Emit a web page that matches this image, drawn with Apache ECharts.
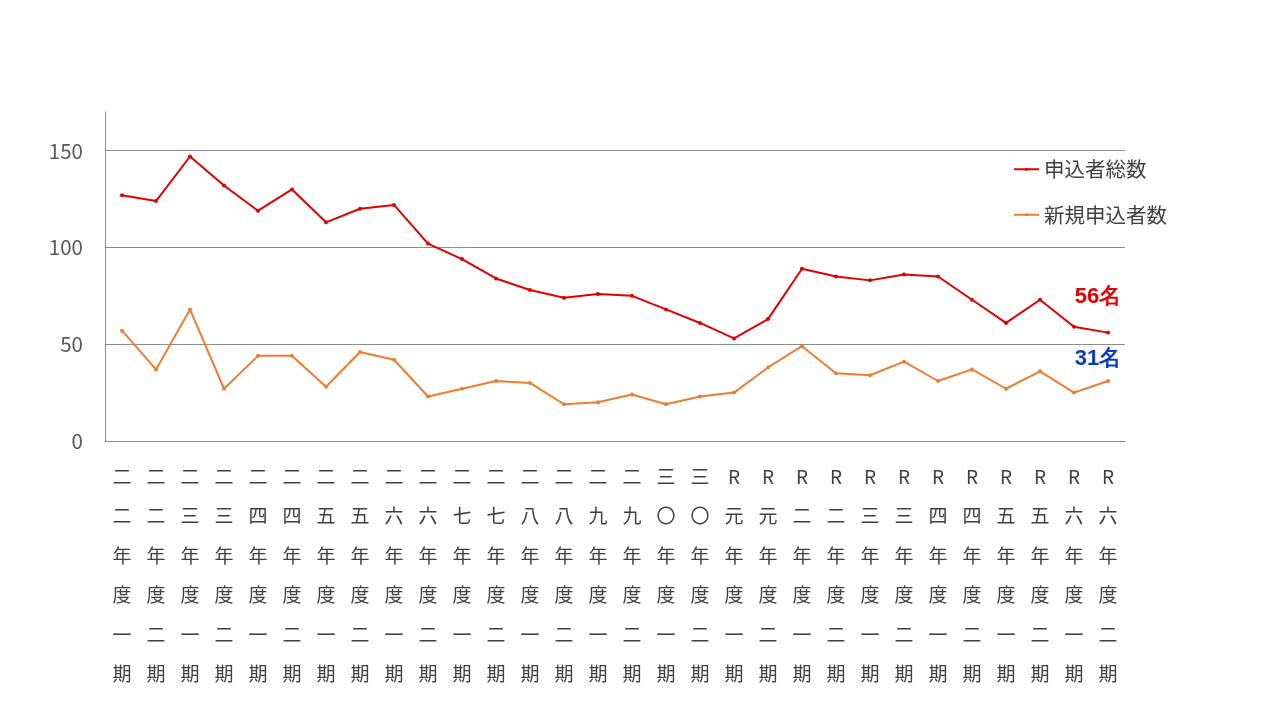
<!DOCTYPE html>
<html><head><meta charset="utf-8">
<script src="https://cdn.jsdelivr.net/npm/echarts@6/dist/echarts.min.js"></script>
<style>html,body{margin:0;padding:0;background:#fff}#c{width:1280px;height:720px}</style>
</head><body><div id="c"></div>
<script>
const categories = [
 '二二年度一期','二二年度二期','二三年度一期','二三年度二期','二四年度一期','二四年度二期',
 '二五年度一期','二五年度二期','二六年度一期','二六年度二期','二七年度一期','二七年度二期',
 '二八年度一期','二八年度二期','二九年度一期','二九年度二期','三〇年度一期','三〇年度二期',
 'R元年度一期','R元年度二期','R二年度一期','R二年度二期','R三年度一期','R三年度二期',
 'R四年度一期','R四年度二期','R五年度一期','R五年度二期','R六年度一期','R六年度二期'];
const totalApplicants = [127,124,147,132,119,130,113,120,122,102,94,84,78,74,76,75,68,61,53,63,89,85,83,86,85,73,61,73,59,56];
const newApplicants = [57,37,68,27,44,44,28,46,42,23,27,31,30,19,20,24,19,23,25,38,49,35,34,41,31,37,27,36,25,31];
const seriesNames = ['申込者総数','新規申込者数'];
const endLabels = ['56名','31名'];
const yTicks = {min:0, max:170, interval:50};

const FONT = '"Noto Sans CJK JP","Noto Sans",sans-serif';
function withEndLabel(arr, text, color, offset){
  return arr.map((v,i)=> i===arr.length-1 ? {value:v, label:{show:true, formatter:text, color:color, fontSize:22, fontWeight:'bold', fontFamily:'Arial, "Liberation Sans", sans-serif', position:'top', offset:offset}} : v);
}
const chart = echarts.init(document.getElementById('c'), null, {renderer:'canvas'});
chart.setOption({
  backgroundColor:'#fff',
  animation:false,
  grid:{left:105, right:155, top:112, bottom:279, containLabel:false},
  legend:{
    orient:'vertical', left:1008, top:154, itemGap:25, itemWidth:25, itemHeight:4,
    textStyle:{fontSize:20.5, color:'#404040', fontFamily:FONT, padding:[0,0,0,0]},
    data:seriesNames
  },
  xAxis:{
    type:'category', data:categories, boundaryGap:true,
    axisLine:{show:true, lineStyle:{color:'#8c8c8c', width:1}},
    axisTick:{show:false},
    axisLabel:{interval:0, margin:16, color:'#404040', fontSize:19, fontFamily:FONT, lineHeight:39.5,
      formatter:(v)=>Array.from(v).join('\n')}
  },
  yAxis:{
    type:'value', min:yTicks.min, max:yTicks.max, interval:yTicks.interval,
    axisLine:{show:true, lineStyle:{color:'#8c8c8c', width:1}},
    axisTick:{show:false},
    axisLabel:{margin:22, color:'#595959', fontSize:20.5, fontFamily:FONT, showMaxLabel:false},
    splitLine:{show:true, showMinLine:false, showMaxLine:false, lineStyle:{color:'#8c8c8c', width:1}}
  },
  series:[
    {name:seriesNames[0], type:'line', data:withEndLabel(totalApplicants, endLabels[0], '#E60000', [-10,-18]),
     symbol:'circle', symbolSize:4, color:'#E00000', lineStyle:{width:2, color:'#E00000'}, itemStyle:{color:'#E00000'}},
    {name:seriesNames[1], type:'line', data:withEndLabel(newApplicants, endLabels[1], '#0A3CBE', [-10,-4]),
     symbol:'circle', symbolSize:4, color:'#ED7D31', lineStyle:{width:2, color:'#ED7D31'}, itemStyle:{color:'#ED7D31'}}
  ]
});
</script></body></html>
